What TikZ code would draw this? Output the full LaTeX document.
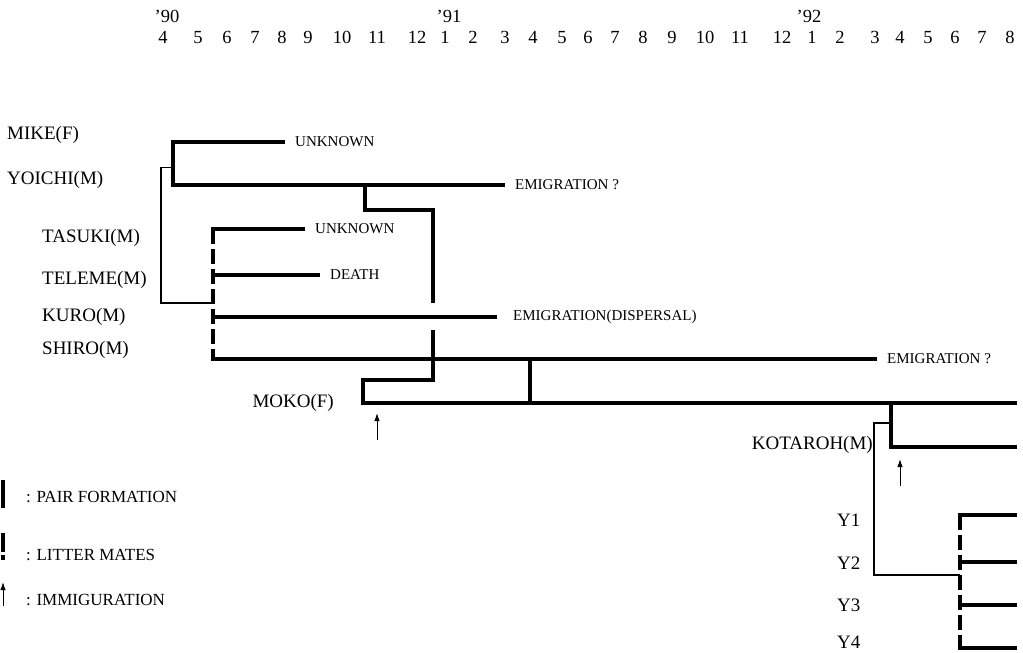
\documentclass[tikz,border=0pt]{standalone}
\usepackage{fontspec}
\setmainfont{Liberation Serif}
\usetikzlibrary{arrows.meta, positioning, calc}

\begin{document}
\begin{tikzpicture}[
    x=1pt, y=-1pt,
    % 1. Text
    animal/.style={font=\fontsize{19}{21}\selectfont, inner sep=0pt, anchor=west},
    fate/.style={font=\fontsize{15}{17}\selectfont, inner sep=10pt, anchor=west},
    month/.style={font=\fontsize{18.5}{20}\selectfont, inner sep=0pt, anchor=base},
    legtxt/.style={font=\fontsize{17}{19}\selectfont, inner sep=0pt, anchor=west},
    % 2. Life lines and links
    life/.style={line width=3.2pt},
    branch/.style={line width=3.2pt, shorten <=-1.6pt},
    link/.style={line width=1.2pt},
    litter/.style={line width=3.2pt, dash pattern=on 15pt off 5pt},
    immig/.style={line width=1pt, -{Latex[length=8pt,width=5.5pt]}}
]
\useasboundingbox (0,0) rectangle (1023,653);

% ===============================
% Time axis
% ===============================
\node[month] (yr90) at (167,23) {'90};
\node[month] (yr91) at (449,23) {'91};
\node[month] (yr92) at (809,23) {'92};
\foreach \x/\m in {163/4, 198/5, 227/6, 255/7, 282/8, 308/9, 342/10, 377/11, 417/12,
                   445/1, 473/2, 505/3, 533/4, 562/5, 588/6, 615/7, 643/8, 672/9, 705/10,
                   740/11, 782/12, 812/1, 840/2, 875/3, 900/4, 928/5, 955/6, 982/7, 1010/8}
    \node[month] (mo\x) at (\x,43) {\m};

% ===============================
% Names
% ===============================
\node[animal] (mike) at (7,135) {MIKE(F)};
\node[animal] (yoichi) at (7,180) {YOICHI(M)};
\node[animal] (tasuki) at (42,238) {TASUKI(M)};
\node[animal] (teleme) at (42,280) {TELEME(M)};
\node[animal] (kuro) at (42,317) {KURO(M)};
\node[animal] (shiro) at (42,350) {SHIRO(M)};
\node[animal, anchor=east] (moko) at (334,403) {MOKO(F)};
\node[animal, anchor=east] (kotaroh) at (873,445) {KOTAROH(M)};
\foreach \i/\y in {1/520, 2/563, 3/605, 4/642}
    \node[animal] (pup\i) at (837,\y) {Y\i};

% ===============================
% Fates
% ===============================
\node[fate] (mikeEnd) at (285,142) {UNKNOWN};
\node[fate] (yoiEnd) at (505,185) {EMIGRATION ?};
\node[fate] (tasEnd) at (305,229) {UNKNOWN};
\node[fate] (telEnd) at (320,275) {DEATH};
\node[fate, inner sep=16pt] (kurEnd) at (497,317) {EMIGRATION(DISPERSAL)};
\node[fate] (shiEnd) at (877,359) {EMIGRATION ?};

% ===============================
% Mike x Yoichi and their litter
% ===============================
\coordinate (pairMY) at (173,142);
\coordinate (yoiStart) at (173,185);
\draw[life] (mikeEnd.west) -- (pairMY) -- (yoiStart) -- (yoiEnd.west);

\coordinate (myMid) at ($(pairMY)!0.6!(yoiStart)$);
\coordinate (litMid) at (213,303);
\draw[link] (myMid) -- ++(-12,0) |- (litMid);

\coordinate (litTop) at (213,229);
\coordinate (litBot) at (213,359);
\draw[litter] (litTop) -- (litBot);
\draw[branch] (litTop) -- (tasEnd.west);
\draw[branch] (litTop |- telEnd.west) -- (telEnd.west);
\draw[branch] (litTop |- kurEnd.west) -- (kurEnd.west);
\draw[branch] (litBot) -- (shiEnd.west);

% ===============================
% Yoichi moves to Moko
% ===============================
\coordinate (yoiLeave) at (365,185);
\coordinate (yoiTurn) at (433,210);
\coordinate (gapTop) at (433,303);
\coordinate (gapBot) at (433,330);
\coordinate (mokoTurn) at (363,380);
\coordinate (mokoStart) at (363,403);
\coordinate (mokoEnd) at (1017,403);
\draw[life] (yoiLeave) |- (yoiTurn) -- (gapTop);
\draw[life] (gapBot) |- (mokoTurn) -- (mokoStart) -- (mokoEnd);

% pair formation Shiro x Moko
\draw[life] (530,359) coordinate (pairSM) -- (pairSM |- mokoStart);

% immigration of Moko
\coordinate (mokoIn) at (377,440);
\draw[immig] (mokoIn) -- ++(0,-27);

% ===============================
% Kotaroh and the young
% ===============================
\coordinate (kotLeave) at (891,403);
\coordinate (kotEnd) at (1017,447);
\draw[life] (kotLeave) |- (kotEnd);

\coordinate (kotMid) at (891,423);
\coordinate (pupMid) at (960,575);
\draw[link] (kotMid) -- ++(-17,0) |- (pupMid);

\coordinate (kotIn) at (900,486);
\draw[immig] (kotIn) -- ++(0,-27);

\coordinate (pupTop) at (960,515);
\coordinate (pupBot) at (960,650);
\draw[litter] (pupTop) -- (pupBot);
\foreach \y in {515, 562, 605, 648}
    \draw[branch] (960,\y) -- (1017,\y);

% ===============================
% Legend
% ===============================
\draw[life] (3,480) -- (3,508);
\node[legtxt] (legPair) at (26,497) {: PAIR FORMATION};
\draw[life, dash pattern=on 19pt off 3pt] (3,533) -- (3,560);
\node[legtxt] (legLit) at (26,555) {: LITTER MATES};
\draw[immig] (3,606) -- (3,582);
\node[legtxt] (legImm) at (26,600) {: IMMIGURATION};

\end{tikzpicture}
\end{document}
